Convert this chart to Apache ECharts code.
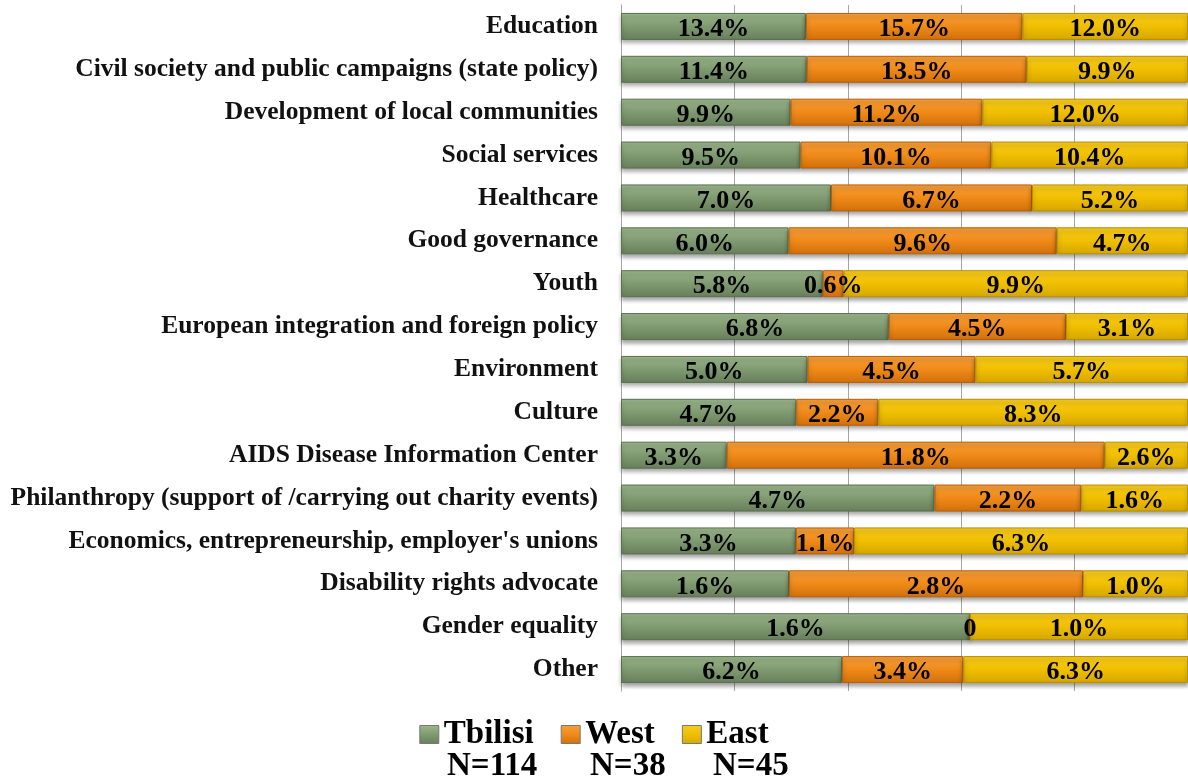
<!DOCTYPE html>
<html>
<head>
<meta charset="utf-8">
<script src="https://cdn.jsdelivr.net/npm/echarts@6/dist/echarts.min.js"></script>
<style>
  html, body { margin: 0; padding: 0; background: #fff; }
  #main { width: 1188px; height: 783px; }
</style>
</head>
<body>
<div id="main"></div>
<script>
var categories = [
  'Education',
  'Civil society and public campaigns (state policy)',
  'Development of local communities',
  'Social services',
  'Healthcare',
  'Good governance',
  'Youth',
  'European integration and foreign policy',
  'Environment',
  'Culture',
  'AIDS Disease Information Center',
  'Philanthropy (support of /carrying out charity events)',
  "Economics, entrepreneurship, employer's unions",
  'Disability rights advocate',
  'Gender equality',
  'Other'
];
var tbilisi = [13.4, 11.4, 9.9, 9.5, 7.0, 6.0, 5.8, 6.8, 5.0, 4.7, 3.3, 4.7, 3.3, 1.6, 1.6, 6.2];
var west    = [15.7, 13.5, 11.2, 10.1, 6.7, 9.6, 0.6, 4.5, 4.5, 2.2, 11.8, 2.2, 1.1, 2.8, 0, 3.4];
var east    = [12.0, 9.9, 12.0, 10.4, 5.2, 4.7, 9.9, 3.1, 5.7, 8.3, 2.6, 1.6, 6.3, 1.0, 1.0, 6.3];
var regionNames = ['Tbilisi', 'West', 'East'];
var regionN = ['N=114', 'N=38', 'N=45'];

var FONT = '"Liberation Serif", "Times New Roman", serif';

// 100% stacked: each segment is its share of the row total
var share = function (arr, i) {
  var total = tbilisi[i] + west[i] + east[i];
  return arr[i] / total * 100;
};
var buildData = function (arr) {
  var res = [];
  for (var i = 0; i < arr.length; i++) {
    res.push({ value: share(arr, i), raw: arr[i] });
  }
  return res;
};

var grad = function (top, mid, bottom) {
  return new echarts.graphic.LinearGradient(0, 0, 0, 1, [
    { offset: 0, color: top },
    { offset: 0.5, color: mid },
    { offset: 1, color: bottom }
  ]);
};

var colors = [
  { fill: grad('#9db88d', '#7f9a70', '#687f5b'), border: '#5c7050', legend: '#7a9669' },
  { fill: grad('#f7a03c', '#f08a18', '#d0700c'), border: '#b85f0a', legend: '#ee8515' },
  { fill: grad('#f8cc20', '#f0bf00', '#d6a600'), border: '#b89000', legend: '#efbd00' }
];

var makeSeries = function (name, arr, idx) {
  return {
    name: name,
    type: 'bar',
    stack: 'all',
    barWidth: 27,
    data: buildData(arr),
    itemStyle: {
      color: colors[idx].fill,
      borderColor: colors[idx].border,
      borderWidth: 1,
      shadowColor: 'rgba(0,0,0,0.35)',
      shadowBlur: 4,
      shadowOffsetY: 3
    },
    label: {
      show: true,
      position: 'inside',
      offset: [0, 3],
      color: '#000',
      fontFamily: FONT,
      fontWeight: 'bold',
      fontSize: 26,
      formatter: function (p) {
        var v = p.data.raw;
        return v === 0 ? '0' : v.toFixed(1) + '%';
      }
    },
    emphasis: { disabled: true }
  };
};

var chart = echarts.init(document.getElementById('main'));
var option = {
  animation: false,
  color: [colors[0].legend, colors[1].legend, colors[2].legend],
  grid: { left: 621, right: -5, top: 5, bottom: 92 },
  xAxis: {
    type: 'value',
    min: 0,
    max: 100,
    interval: 20,
    axisLabel: { show: false },
    axisLine: { show: false },
    axisTick: { show: false },
    splitLine: { lineStyle: { color: '#a6a6a6', width: 1 } }
  },
  yAxis: {
    type: 'category',
    inverse: true,
    data: categories,
    axisLine: { show: true, lineStyle: { color: '#a6a6a6' } },
    axisTick: { show: false },
    axisLabel: {
      margin: 23,
      color: '#111',
      fontFamily: FONT,
      fontWeight: 'bold',
      fontSize: 25.5
    }
  },
  legend: {
    data: regionNames,
    left: 'center',
    top: 713,
    icon: 'rect',
    itemWidth: 19,
    itemHeight: 18,
    itemGap: 27,
    itemStyle: { borderColor: '#777', borderWidth: 1 },
    textStyle: {
      color: '#000',
      fontFamily: FONT,
      fontWeight: 'bold',
      fontSize: 33
    }
  },
  graphic: [
    { type: 'text', left: 447, top: 750, style: { text: regionN[0], font: 'bold 33px ' + FONT, fill: '#000' } },
    { type: 'text', left: 590, top: 750, style: { text: regionN[1], font: 'bold 33px ' + FONT, fill: '#000' } },
    { type: 'text', left: 713, top: 750, style: { text: regionN[2], font: 'bold 33px ' + FONT, fill: '#000' } }
  ],
  series: [
    makeSeries(regionNames[0], tbilisi, 0),
    makeSeries(regionNames[1], west, 1),
    makeSeries(regionNames[2], east, 2)
  ]
};
chart.setOption(option);
</script>
</body>
</html>
